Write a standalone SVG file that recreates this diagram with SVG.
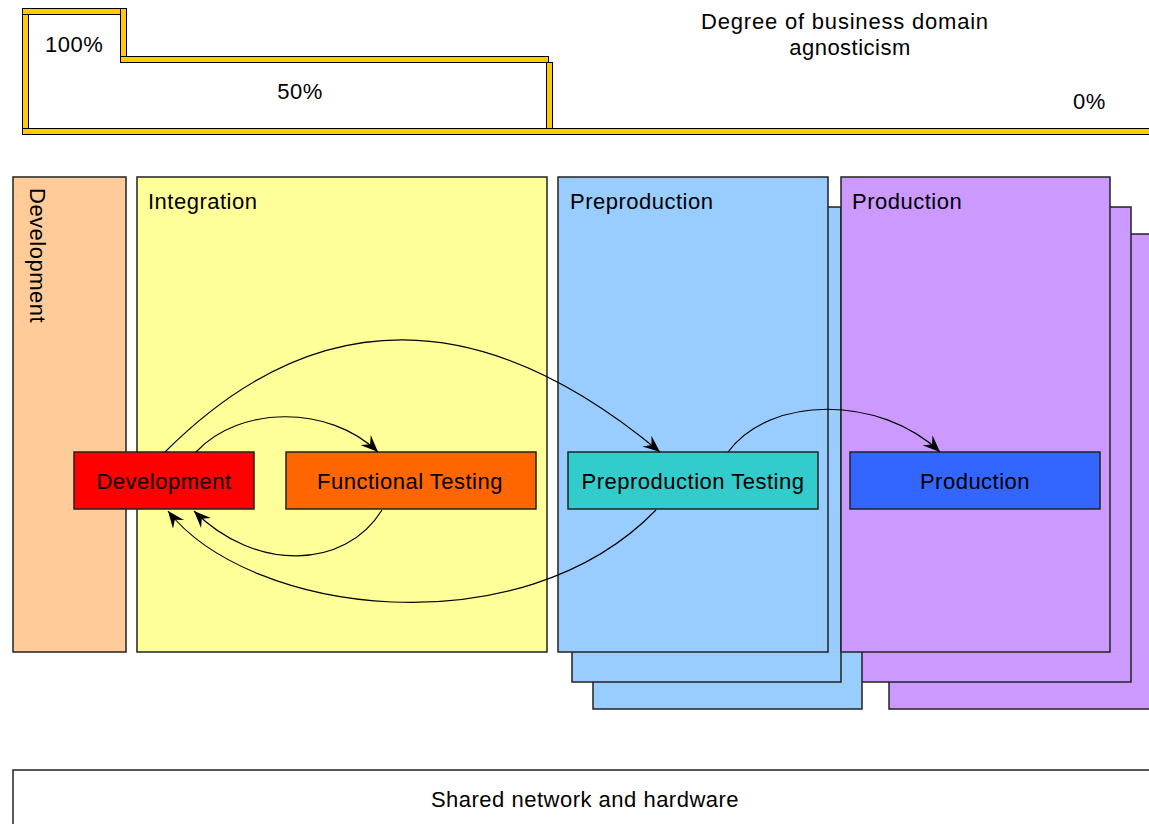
<svg xmlns="http://www.w3.org/2000/svg" width="1149" height="824" viewBox="0 0 1149 824">
<style>
text{font-family:"Liberation Sans",Arial,sans-serif;font-size:22px;fill:#000;letter-spacing:0.5px}
.c{text-anchor:middle}
.bar{fill:#FFCC00;stroke:#000;stroke-width:1}
.lane{stroke:#222;stroke-width:1.5}
.node{stroke:#222;stroke-width:1.5}
.conn{fill:none;stroke:#000;stroke-width:1.2;marker-end:url(#arr)}
</style>
<defs>
<marker id="arr" markerUnits="userSpaceOnUse" markerWidth="20" markerHeight="16" refX="17" refY="8" orient="auto">
<path d="M0,1 L17,8 L0,15 L6,8 z" fill="#000"/>
</marker>
</defs>
<rect width="1149" height="824" fill="#fff"/>

<g id="agnosticism-scale">
<rect class="bar" x="22.5" y="8.5" width="6" height="126"/>
<rect class="bar" x="22.5" y="8.5" width="104" height="6"/>
<rect class="bar" x="120.5" y="8.5" width="6" height="54"/>
<rect class="bar" x="120.5" y="56.5" width="428" height="6"/>
<rect class="bar" x="546.5" y="62.5" width="6" height="66"/>
<rect class="bar" x="22.5" y="128.5" width="1140" height="6"/>
<text x="45" y="52">100%</text>
<text class="c" x="300" y="99">50%</text>
<text x="1073" y="109">0%</text>
<text class="c" x="845" y="29" style="letter-spacing:0.8px">Degree of business domain</text>
<text class="c" x="850" y="55">agnosticism</text>
</g>

<g id="lane-development">
<rect class="lane" x="13" y="177" width="113" height="475" fill="#FFCC99"/>
<text transform="translate(29.5,188) rotate(90)">Development</text>
</g>

<g id="lane-integration">
<rect class="lane" x="137" y="177" width="410" height="475" fill="#FFFF99"/>
<text x="148" y="209">Integration</text>
</g>

<g id="lane-production-back">
<rect class="lane" x="889" y="234" width="275" height="475" fill="#CC99FF"/>
<rect class="lane" x="861" y="207" width="270" height="475" fill="#CC99FF"/>
</g>

<g id="lane-preproduction">
<rect class="lane" x="593" y="234" width="269" height="475" fill="#99CCFF"/>
<rect class="lane" x="572" y="207" width="269" height="475" fill="#99CCFF"/>
<rect class="lane" x="558" y="177" width="270" height="475" fill="#99CCFF"/>
<text x="570" y="209">Preproduction</text>
</g>

<g id="lane-production">
<rect class="lane" x="841" y="177" width="269" height="475" fill="#CC99FF"/>
<text x="852" y="209">Production</text>
</g>

<g id="shared-network">
<rect class="lane" x="13" y="770" width="1150" height="70" fill="#fff"/>
<text class="c" x="585" y="807">Shared network and hardware</text>
</g>

<g id="node-development">
<rect class="node" x="74" y="452" width="180" height="57" fill="#FF0000"/>
<text class="c" x="164" y="489">Development</text>
</g>
<g id="node-functional-testing">
<rect class="node" x="286" y="452" width="250" height="57" fill="#FF6600"/>
<text class="c" x="410" y="489">Functional Testing</text>
</g>
<g id="node-preproduction-testing">
<rect class="node" x="568" y="452" width="250" height="57" fill="#33CCCC"/>
<text class="c" x="693" y="489">Preproduction Testing</text>
</g>
<g id="node-production">
<rect class="node" x="850" y="452" width="250" height="57" fill="#3366FF"/>
<text class="c" x="975" y="489">Production</text>
</g>

<g id="connectors">
<path class="conn" d="M196,452 C240,405 330,405 378,452"/>
<path class="conn" d="M382,510 C345,570 255,572 194,511"/>
<path class="conn" d="M165,452 C317,300 484,305 660,452"/>
<path class="conn" d="M656,510 C520,650 250,615 168,511"/>
<path class="conn" d="M728,452 C770,395 880,395 940,452"/>
</g>
</svg>
